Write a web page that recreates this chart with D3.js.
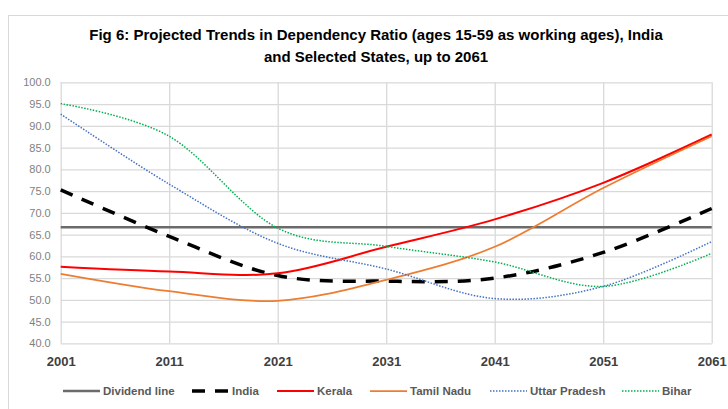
<!DOCTYPE html>
<html>
<head>
<meta charset="utf-8">
<script src="https://cdn.jsdelivr.net/npm/d3@7"></script>
<style>
  body { margin: 0; background: #fff; }
  svg { display: block; font-family: "Liberation Sans", Arial, sans-serif; }
</style>
</head>
<body>
<div id="chart"></div>
<script>
// values
const years = [2001, 2011, 2021, 2031, 2041, 2051, 2061];
const dividendLine = [66.7, 66.7, 66.7, 66.7, 66.7, 66.7, 66.7];
const india = [75.3, 64.6, 55.6, 54.3, 55.0, 60.9, 71.0];
const kerala = [57.6, 56.5, 56.1, 62.2, 68.5, 76.9, 88.0];
const tamilNadu = [56.0, 52.0, 49.8, 54.6, 62.2, 75.7, 87.6];
const uttarPradesh = [92.7, 76.6, 63.0, 57.1, 50.3, 53.1, 63.4];
const bihar = [95.1, 87.6, 66.5, 62.3, 58.7, 53.1, 60.7];
const yTicks = [40, 45, 50, 55, 60, 65, 70, 75, 80, 85, 90, 95, 100];

const seriesNames = ["Dividend line", "India", "Kerala", "Tamil Nadu", "Uttar Pradesh", "Bihar"];
const seriesValues = [dividendLine, india, kerala, tamilNadu, uttarPradesh, bihar];

const styles = {
    "Dividend line": { color: "#6b6b6b", width: 2.5, dash: null, curve: d3.curveLinear },
    "India":         { color: "#000000", width: 3.5, dash: "13,10", curve: d3.curveCatmullRom.alpha(0) },
    "Kerala":        { color: "#ff0000", width: 2,   dash: null, curve: d3.curveCatmullRom.alpha(0) },
    "Tamil Nadu":    { color: "#ed7d31", width: 1.75, dash: null, curve: d3.curveCatmullRom.alpha(0) },
    "Uttar Pradesh": { color: "#4472c4", width: 1.5, dash: "1.5,1.5", curve: d3.curveCatmullRom.alpha(0) },
    "Bihar":         { color: "#00b050", width: 1.5, dash: "1.5,1.5", curve: d3.curveCatmullRom.alpha(0) }
};

const W = 728, H = 409;
const PLOT = { LEFT: 60.7, RIGHT: 711.7, TOP: 82.3, BOTTOM: 343.4 };

const svg = d3.select("#chart").append("svg")
    .attr("width", W)
    .attr("height", H);

// chart frame
svg.append("rect")
    .attr("x", 8.5).attr("y", 15.5)
    .attr("width", 740).attr("height", 420)
    .attr("fill", "#fff")
    .attr("stroke", "#d9d9d9")
    .attr("stroke-width", 1);

// title
const title = svg.append("text")
    .attr("text-anchor", "middle")
    .attr("font-weight", "bold")
    .attr("font-size", "15px")
    .attr("fill", "#000");
title.append("tspan").attr("x", 376).attr("y", 40)
    .text("Fig 6: Projected Trends in Dependency Ratio (ages 15-59 as working ages), India");
title.append("tspan").attr("x", 376).attr("y", 62)
    .text("and Selected States, up to 2061");

const x = d3.scaleLinear()
    .domain([2001, 2061])
    .range([PLOT.LEFT, PLOT.RIGHT]);

const y = d3.scaleLinear()
    .domain([40, 100])
    .range([PLOT.BOTTOM, PLOT.TOP]);

// gridlines
const xGrid = d3.axisBottom(x)
    .tickValues(years)
    .tickSize(-(PLOT.BOTTOM - PLOT.TOP))
    .tickSizeOuter(0)
    .tickFormat("");

svg.append("g")
    .attr("class", "grid")
    .attr("transform", `translate(0, ${PLOT.BOTTOM})`)
    .call(xGrid)
    .call(g => g.select(".domain").remove())
    .selectAll("line")
    .style("stroke", "#d9d9d9")
    .style("stroke-width", 1.3);

const yAxis = d3.axisLeft(y)
    .tickValues(yTicks)
    .tickSize(-(PLOT.RIGHT - PLOT.LEFT))
    .tickSizeOuter(0)
    .tickPadding(10)
    .tickFormat(d3.format(".1f"));

svg.append("g")
    .attr("class", "grid")
    .attr("transform", `translate(${PLOT.LEFT}, 0)`)
    .call(yAxis)
    .call(g => g.select(".domain").remove())
    .call(g => g.selectAll("line")
        .style("stroke", "#d9d9d9")
        .style("stroke-width", 1.3))
    .selectAll("text")
    .attr("fill", "#7f7f7f")
    .style("font-size", "11px");

// x labels
const xAxis = d3.axisBottom(x)
    .tickValues(years)
    .tickSize(0)
    .tickPadding(13)
    .tickFormat(d3.format("d"));

svg.append("g")
    .attr("transform", `translate(0, ${PLOT.BOTTOM})`)
    .call(xAxis)
    .call(g => g.select(".domain").remove())
    .selectAll("text")
    .attr("fill", "#404040")
    .style("font-weight", "bold")
    .style("font-size", "13px");

// lines
const line = d3.line()
    .x((d, i) => x(years[i]))
    .y(d => y(d));

seriesNames.forEach((name, k) => {
    const s = styles[name];
    svg.append("path")
        .datum(seriesValues[k])
        .attr("fill", "none")
        .attr("stroke", s.color)
        .attr("stroke-width", s.width)
        .attr("stroke-dasharray", s.dash)
        .attr("d", line.curve(s.curve));
});

// legend
const legendX = [63, 192, 277, 370, 490, 622];
const legendY = 391;

seriesNames.forEach((name, k) => {
    const s = styles[name];
    const g = svg.append("g").attr("transform", `translate(${legendX[k]}, ${legendY})`);
    g.append("line")
        .attr("x1", 0).attr("x2", 37)
        .attr("y1", 0).attr("y2", 0)
        .attr("stroke", s.color)
        .attr("stroke-width", s.width)
        .attr("stroke-dasharray", s.dash);
    g.append("text")
        .attr("x", 40)
        .attr("y", 4.3)
        .attr("fill", "#595959")
        .style("font-weight", "bold")
        .style("font-size", "11.5px")
        .text(name);
});
</script>
</body>
</html>
